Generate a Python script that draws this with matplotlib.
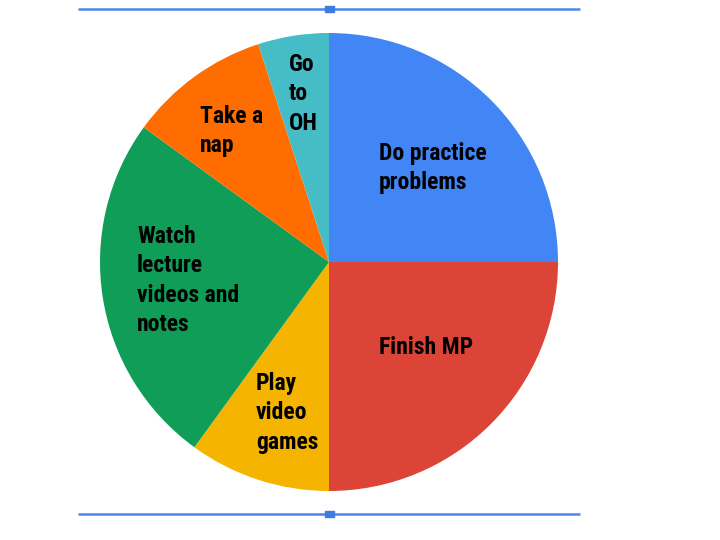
import matplotlib
matplotlib.use("Agg")
import matplotlib.pyplot as plt
from matplotlib import font_manager

categories = ["Do practice\nproblems", "Finish MP", "Play\nvideo\ngames",
              "Watch\nlecture\nvideos and\nnotes", "Take a\nnap", "Go\nto\nOH"]
values = [25, 25, 10, 25, 10, 5]
colors = ["#4285F4", "#DB4437", "#F4B400", "#0F9D58", "#FF6D01", "#46BDC6"]
# label anchor (top-left, pixel coords from top-left of figure)
label_pos = [(379, 143), (379, 337), (256, 373), (137, 226), (200, 106), (289, 54)]

names = {f.name for f in font_manager.fontManager.ttflist}
fam = ["Roboto Condensed", "Liberation Sans Narrow", "Liberation Sans", "DejaVu Sans"]
fam = [f for f in fam if f in names] or ["DejaVu Sans"]

W, H = 720, 540
fig = plt.figure(figsize=(7.2, 5.4), dpi=100)
ax = fig.add_axes([0, 0, 1, 1])

cx, cy, r = 329, H - 262, 229
ax.pie(values, colors=colors, startangle=90, counterclock=False,
       center=(cx, cy), radius=r, frame=True,
       wedgeprops=dict(linewidth=0))
ax.set_xlim(0, W)
ax.set_ylim(0, H)
ax.set_aspect("equal")
ax.axis("off")

for lab, (x, y) in zip(categories, label_pos):
    ax.text(x, H - y + 1, lab, ha="left", va="top", family=fam,
            fontweight="black", fontsize=17, color="black", linespacing=1.35)

# selection frame lines
for yy in (9, 514):
    ax.plot([78, 580], [H - yy, H - yy], color="#4A86E8", lw=1.8,
            solid_capstyle="butt")
    ax.add_patch(plt.Rectangle((325, H - yy - 3), 9, 6, color="#3D7DE0", zorder=5))

fig.savefig("out.png", dpi=100)
